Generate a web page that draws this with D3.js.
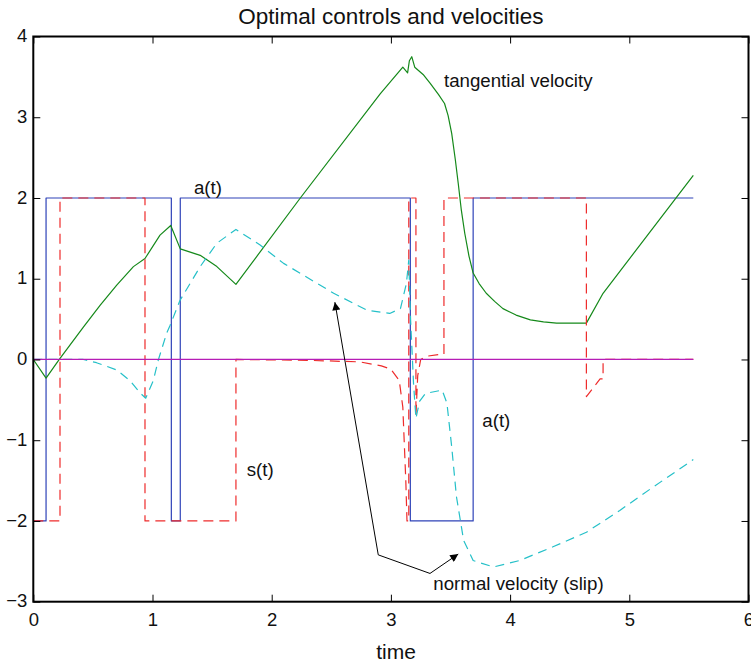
<!DOCTYPE html>
<html><head><meta charset="utf-8">
<script src="https://cdn.jsdelivr.net/npm/d3@7"></script>
<style>
html,body{margin:0;padding:0;background:#fff;}
text{font-family:"Liberation Sans",Arial,Helvetica,sans-serif;fill:#111;}
</style></head>
<body>
<svg id="chart" width="751" height="666"></svg>
<script>
// ---- data ----
const xTicks = [0, 1, 2, 3, 4, 5, 6];
const yTicks = [-3, -2, -1, 0, 1, 2, 3, 4];

// control a(t) (blue)
const aTime = [0, 0.107, 0.107, 1.158, 1.158, 1.233, 1.233, 3.163, 3.163, 3.69, 3.69, 5.537];
const aVal  = [-2, -2, 2, 2, -2, -2, 2, 2, -2, -2, 2, 2];

// control s(t) (red dashed)
const sTime = [0, 0.224, 0.224, 0.937, 0.937, 1.70, 1.70, 2.3, 2.74, 2.92, 3.0, 3.07, 3.10, 3.125, 3.135, 3.15, 3.15, 3.21, 3.21, 3.225, 3.25, 3.30, 3.42, 3.445, 3.445, 4.64, 4.64, 4.755, 4.78, 4.78, 5.537];
const sVal  = [-2, -2, 2, 2, -2, -2, 0, -0.01, -0.03, -0.08, -0.12, -0.26, -0.59, -1.5, -2, -2, 2, 2, -0.7, -0.2, 0.0, 0.04, 0.065, 0.065, 2, 2, -0.46, -0.24, -0.24, 0, 0];

// tangential velocity (green)
const gTime = [0, 0.107, 0.218, 0.42, 0.56, 0.70, 0.84, 0.937, 1.063, 1.153, 1.233, 1.40, 1.54, 1.70, 2.24, 2.91, 3.10, 3.14, 3.155, 3.175, 3.20, 3.27, 3.33, 3.40, 3.45, 3.48, 3.51, 3.54, 3.565, 3.59, 3.62, 3.655, 3.69, 3.74, 3.80, 3.87, 3.94, 4.05, 4.17, 4.28, 4.39, 4.64, 4.78, 5.537];
const gVal  = [0, -0.23, 0, 0.40, 0.67, 0.92, 1.15, 1.25, 1.54, 1.66, 1.37, 1.29, 1.15, 0.93, 2.0, 3.29, 3.62, 3.55, 3.70, 3.75, 3.62, 3.53, 3.42, 3.28, 3.17, 3.02, 2.80, 2.48, 2.18, 1.86, 1.56, 1.28, 1.07, 0.94, 0.82, 0.72, 0.63, 0.55, 0.49, 0.465, 0.45, 0.45, 0.82, 2.28];

// normal velocity (slip) (cyan dashed)
const nTime = [0, 0.2, 0.42, 0.53, 0.70, 0.81, 0.90, 0.943, 1.007, 1.05, 1.12, 1.147, 1.23, 1.40, 1.54, 1.70, 1.90, 2.10, 2.52, 2.80, 2.99, 3.08, 3.13, 3.15, 3.165, 3.19, 3.21, 3.24, 3.29, 3.43, 3.47, 3.51, 3.55, 3.61, 3.69, 3.86, 4.08, 4.36, 4.64, 4.92, 5.20, 5.537];
const nVal  = [0, 0, 0, -0.04, -0.13, -0.26, -0.42, -0.48, -0.26, 0, 0.33, 0.42, 0.73, 1.15, 1.44, 1.61, 1.42, 1.19, 0.82, 0.61, 0.57, 0.63, 0.94, 1.23, 0.5, -0.3, -0.73, -0.52, -0.42, -0.38, -0.54, -1.08, -1.70, -2.24, -2.49, -2.57, -2.49, -2.32, -2.14, -1.87, -1.58, -1.24];

// zero reference (magenta)
const zTime = [0, 5.537];
const zVal  = [0, 0];

// annotations
const labelText = ["tangential velocity", "a(t)", "a(t)", "s(t)", "normal velocity (slip)"];
const labelT    = [3.445, 1.348, 3.767, 1.79, 3.356];
const labelV    = [3.37, 2.048, -0.835, -1.445, -2.855];

// arrow polylines (time, value)
const arrow1T = [2.894, 2.53];
const arrow1V = [-2.42, 0.71];
const arrow2T = [2.894, 3.328, 3.565];
const arrow2V = [-2.42, -2.65, -2.41];

const titleText = "Optimal controls and velocities";
const xLabel = "time";

// ---- drawing ----
const svg = d3.select("#chart");
const L = 33.3, R = 748.5, T = 36.5, B = 601.7;
const x = d3.scaleLinear().domain([0, 6]).range([L, R]);
const y = d3.scaleLinear().domain([-3, 4]).range([B, T]);

const line = d3.line().x(d => x(d[0])).y(d => y(d[1]));
const zip = (a, b) => a.map((v, i) => [v, b[i]]);

svg.append("defs").append("marker")
  .attr("id", "ah").attr("viewBox", "0 0 10 10").attr("refX", 10).attr("refY", 5)
  .attr("markerWidth", 11).attr("markerHeight", 8).attr("markerUnits", "userSpaceOnUse")
  .attr("orient", "auto")
  .append("path").attr("d", "M0,0 L10,5 L0,10 z").attr("fill", "#000");

const series = [
  {t: aTime, v: aVal, color: "#2f43b8", dash: null},
  {t: gTime, v: gVal, color: "#15891a", dash: null},
  {t: sTime, v: sVal, color: "#ee2b2b", dash: "10,6"},
  {t: nTime, v: nVal, color: "#25c0c8", dash: "9,6"},
  {t: zTime, v: zVal, color: "#b61cb6", dash: null}
];
series.forEach(s => {
  svg.append("path").datum(zip(s.t, s.v)).attr("d", line)
    .attr("fill", "none").attr("stroke", s.color).attr("stroke-width", 1.2)
    .attr("stroke-linejoin", "round")
    .attr("stroke-dasharray", s.dash);
});

// arrows
svg.append("path").datum(zip(arrow1T, arrow1V)).attr("d", line)
  .attr("fill", "none").attr("stroke", "#000").attr("stroke-width", 1)
  .attr("marker-end", "url(#ah)");
svg.append("path").datum(zip(arrow2T, arrow2V)).attr("d", line)
  .attr("fill", "none").attr("stroke", "#000").attr("stroke-width", 1)
  .attr("marker-end", "url(#ah)");

// labels
labelText.forEach((s, i) => {
  svg.append("text").attr("x", x(labelT[i])).attr("y", y(labelV[i]))
    .attr("font-size", 18.7).text(s);
});

// axes box
const box = svg.append("g");
box.append("rect").attr("x", L).attr("y", T).attr("width", R - L).attr("height", B - T)
  .attr("fill", "none").attr("stroke", "#000").attr("stroke-width", 2);

const xAxisB = d3.axisBottom(x).tickValues(xTicks).tickSize(-7).tickPadding(11).tickFormat(d3.format("d"));
const xAxisT = d3.axisTop(x).tickValues(xTicks).tickSize(-7).tickFormat("");
const yAxisL = d3.axisLeft(y).tickValues(yTicks).tickSize(-7).tickPadding(6).tickFormat(d => d < 0 ? "\u2212" + Math.abs(d) : d);
const yAxisR = d3.axisRight(y).tickValues(yTicks).tickSize(-7).tickFormat("");

function style(g) {
  g.select(".domain").remove();
  g.selectAll(".tick line").attr("stroke", "#000").attr("stroke-width", 1);
  g.selectAll(".tick text").attr("font-size", 18.5).attr("fill", "#111")
    .style("font-family", "'Liberation Sans', Arial, sans-serif");
}
svg.append("g").attr("transform", `translate(0,${B})`).call(xAxisB).call(style);
svg.append("g").attr("transform", `translate(0,${T})`).call(xAxisT).call(style);
svg.append("g").attr("transform", `translate(${L},0)`).call(yAxisL).call(style)
  .selectAll(".tick text").attr("dy", "0.28em");
svg.append("g").attr("transform", `translate(${R},0)`).call(yAxisR).call(style);

// title and x label
svg.append("text").attr("x", (L + R) / 2).attr("y", 24).attr("text-anchor", "middle")
  .attr("font-size", 22.5).text(titleText);
svg.append("text").attr("x", 396).attr("y", 659).attr("text-anchor", "middle")
  .attr("font-size", 21).text(xLabel);
</script>
</body></html>
